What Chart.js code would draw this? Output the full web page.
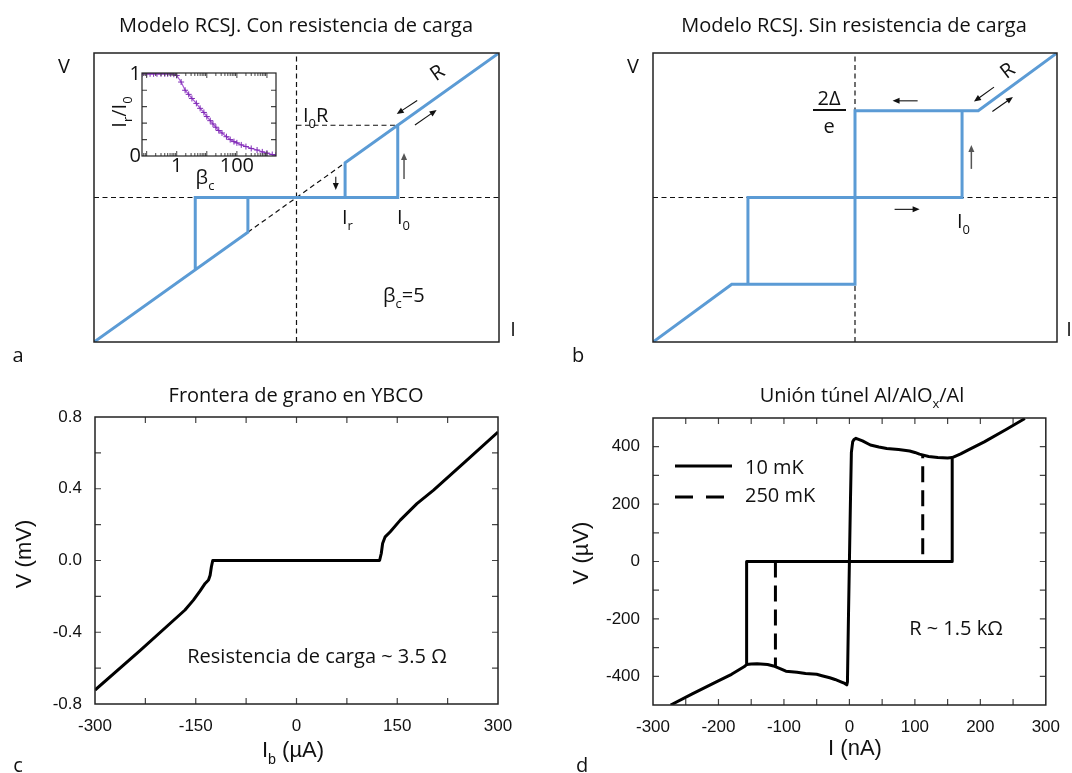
<!DOCTYPE html>
<html><head><meta charset="utf-8">
<script src="https://cdn.jsdelivr.net/npm/chart.js@4.4.1/dist/chart.umd.min.js"></script>
<style>
html,body{margin:0;padding:0;background:#fff;}
#fig{position:relative;width:1072px;height:773px;overflow:hidden;background:#fff;}
canvas{position:absolute;}
</style></head><body>
<div id="fig">
<canvas id="ca" width="536" height="386" style="left:0;top:0"></canvas>
<canvas id="cb" width="536" height="386" style="left:536px;top:0"></canvas>
<canvas id="cc" width="536" height="387" style="left:0;top:386px"></canvas>
<canvas id="cd" width="536" height="387" style="left:536px;top:386px"></canvas>
<canvas id="ci" width="190" height="135" style="left:100px;top:60px"></canvas>
</div>
<script>
// ---------------- data ----------------
// Panel a: RCSJ model with load resistance (normalised I, V)
const aBlueI = [-1, -0.24, -0.24, null, -0.5, -0.5, 0.5, 0.5, null, 0.24, 0.24, 1];
const aBlueV = [-1, -0.24, 0, null, -0.5, 0, 0, 0.5, null, 0, 0.24, 1];
const aRefI = [-0.24, 0.24, null, -1, 1, null, 0, 0, null, 0, 0.5];
const aRefV = [-0.24, 0.24, null, 0, 0, null, -1, 1, null, 0.5, 0.5];
// Inset: Ir/I0 vs beta_c
const insetBeta = [0.07, 0.1, 0.13, 0.17, 0.22, 0.3, 0.4, 0.5, 0.63, 0.8, 1, 1.4, 1.9, 2.5, 3.2, 4.5, 6, 8, 10, 13, 16, 20, 25, 32, 45, 60, 80, 100, 140, 200, 300, 470, 700, 1000, 1500, 2000];
const insetRatio = [1, 1, 1, 1, 1, 1, 1, 1, 1, 0.995, 0.98, 0.9, 0.8, 0.75, 0.7, 0.64, 0.58, 0.53, 0.48, 0.43, 0.39, 0.35, 0.31, 0.28, 0.235, 0.2, 0.175, 0.16, 0.135, 0.115, 0.092, 0.073, 0.05, 0.035, 0.018, 0.01];
const insetXLabels = [1, 100];
const insetYLabels = [0, 1];
// Panel b: RCSJ model without load resistance
const bBlueI = [-1, -0.61, 0, 0, 0.61, 1, null, -0.53, -0.53, 0.53, 0.53];
const bBlueV = [-1, -0.6, -0.6, 0.6, 0.6, 1, null, -0.6, 0, 0, 0.6];
const bRefI = [-1, 1, null, 0, 0];
const bRefV = [0, 0, null, -1, 1];
// Panel c: YBCO grain boundary (uA, mV)
const cCurrent = [-300, -233, -166, -153.5, -143.5, -136, -131, -128.6, -126.7, -124.7, 123.7, 126.2, 128.2, 132, 139.6, 154.5, 179.3, 204.1, 253.8, 300];
const cVoltage = [-0.722, -0.503, -0.276, -0.221, -0.169, -0.128, -0.109, -0.082, -0.035, 0, 0, 0.039, 0.095, 0.132, 0.16, 0.225, 0.317, 0.392, 0.559, 0.716];
const cXLabels = [-300, -150, 0, 150, 300];
const cYLabels = [-0.8, -0.4, 0, 0.4, 0.8];
// Panel d: Al/AlOx/Al tunnel junction (nA, uV)
const d10OuterI = [-273, -240, -201, -180, -161, -157, -157, 157, 157, 170, 181, 206, 240, 268];
const d10OuterV = [-500, -461, -417, -393, -367, -359, 0, 0, 362, 375, 388, 417, 461, 498];
const d10LoopI = [-157, -150, -141, -125, -116, -105, -97, -80, -67, -50, -42, -30, -22, -12, -7, -4, -3, -1.5, 0, 1.5, 3, 5, 7, 10, 20, 32, 45, 57, 75, 92, 100, 107, 121, 135, 150, 157];
const d10LoopV = [-359, -357, -356, -359, -364, -374, -382, -386, -390, -393, -398, -405, -411, -420, -425, -430, -420, -200, 0, 200, 380, 417, 425, 429, 420, 406, 399, 394, 390, 385, 380, 374, 366, 362, 361, 362];
const d250I = [112, 112, null, -113, -113];
const d250V = [25, 368, null, 0, -366];
const dXLabels = [-300, -200, -100, 0, 100, 200, 300];
const dYLabels = [-400, -200, 0, 200, 400];

// ---------------- helpers ----------------
const OPEN = "'Open Sans', 'Noto Sans', sans-serif";
const ARIAL = "'Liberation Sans', Arial, sans-serif";
const BLUE = '#5b9bd5';
function pts(xs, ys) { return xs.map((x, i) => ({x: x, y: ys[i]})); }

function drawRich(ctx, t) {
  const size = t.size || 20, fam = t.family || OPEN;
  const parts = t.parts || [[t.text, '']];
  const sub = size * 0.65;
  ctx.save();
  ctx.translate(t.x, t.y);
  if (t.rot) ctx.rotate(t.rot * Math.PI / 180);
  ctx.fillStyle = t.color || '#111';
  ctx.textBaseline = 'alphabetic';
  ctx.textAlign = 'left';
  const ws = []; let tot = 0;
  parts.forEach(([s, k]) => { ctx.font = (k === 'sub' ? sub : size) + 'px ' + fam; const w = ctx.measureText(s).width; ws.push(w); tot += w; });
  let x0 = t.align === 'left' ? 0 : t.align === 'right' ? -tot : -tot / 2;
  const base = size * 0.36;
  parts.forEach(([s, k], i) => {
    ctx.font = (k === 'sub' ? sub : size) + 'px ' + fam;
    ctx.fillText(s, x0, base + (k === 'sub' ? size * 0.3 : 0));
    x0 += ws[i];
  });
  ctx.restore();
}
function drawArrow(ctx, x1, y1, x2, y2, color, lw) {
  const a = Math.atan2(y2 - y1, x2 - x1), h = 7, w = 3;
  ctx.strokeStyle = color; ctx.fillStyle = color; ctx.lineWidth = lw || 1.1;
  ctx.beginPath(); ctx.moveTo(x1, y1); ctx.lineTo(x2 - h * 0.8 * Math.cos(a), y2 - h * 0.8 * Math.sin(a)); ctx.stroke();
  ctx.beginPath(); ctx.moveTo(x2, y2);
  ctx.lineTo(x2 - h * Math.cos(a) + w * Math.sin(a), y2 - h * Math.sin(a) - w * Math.cos(a));
  ctx.lineTo(x2 - h * Math.cos(a) - w * Math.sin(a), y2 - h * Math.sin(a) + w * Math.cos(a));
  ctx.closePath(); ctx.fill();
}

const annot = {
  id: 'annot',
  afterDraw(chart, args, o) {
    const ctx = chart.ctx, ca = chart.chartArea, xs = chart.scales.x, ys = chart.scales.y;
    const ox = (o.offset || [0, 0])[0], oy = (o.offset || [0, 0])[1];
    ctx.save();
    if (o.tickLen) {
      const L = o.tickLen;
      ctx.strokeStyle = '#444'; ctx.lineWidth = 1.2; ctx.beginPath();
      const xv = o.xTickVals || xs.ticks.map(t => t.value);
      const yv = o.yTickVals || ys.ticks.map(t => t.value);
      xv.forEach(v => { const p = xs.getPixelForValue(v); if (p <= ca.left + 1 || p >= ca.right - 1) return;
        ctx.moveTo(p, ca.bottom); ctx.lineTo(p, ca.bottom - L); ctx.moveTo(p, ca.top); ctx.lineTo(p, ca.top + L); });
      yv.forEach(v => { const p = ys.getPixelForValue(v); if (p <= ca.top + 1 || p >= ca.bottom - 1) return;
        ctx.moveTo(ca.left, p); ctx.lineTo(ca.left + L, p); ctx.moveTo(ca.right, p); ctx.lineTo(ca.right - L, p); });
      ctx.stroke();
    }
    if (o.logMinor) {
      ctx.strokeStyle = '#444'; ctx.lineWidth = 1; ctx.beginPath();
      for (let e = -2; e <= 4; e++) for (let m = 1; m <= 9; m++) {
        const v = m * Math.pow(10, e);
        if (v <= xs.min || v >= xs.max) continue;
        const p = xs.getPixelForValue(v), L = m === 1 ? 5 : 3;
        ctx.moveTo(p, ca.bottom); ctx.lineTo(p, ca.bottom - L); ctx.moveTo(p, ca.top); ctx.lineTo(p, ca.top + L);
      }
      ctx.stroke();
    }
    if (o.box) {
      ctx.strokeStyle = '#222'; ctx.lineWidth = o.box;
      ctx.strokeRect(ca.left, ca.top, ca.right - ca.left, ca.bottom - ca.top);
    }
    (o.lines || []).forEach(l => {
      ctx.beginPath(); ctx.strokeStyle = l.color || '#111'; ctx.lineWidth = l.w || 1;
      ctx.setLineDash(l.dash || []); ctx.moveTo(l.x1 - ox, l.y - oy); ctx.lineTo(l.x2 - ox, l.y - oy); ctx.stroke(); ctx.setLineDash([]);
    });
    (o.arrows || []).forEach(a => drawArrow(ctx, xs.getPixelForValue(a[0]), ys.getPixelForValue(a[1]), xs.getPixelForValue(a[2]), ys.getPixelForValue(a[3]), a[4] || '#111', a[5]));
    (o.texts || []).forEach(t => drawRich(ctx, Object.assign({}, t, {x: t.x - ox, y: t.y - oy})));
    ctx.restore();
  }
};

const common = {responsive: false, animation: false, devicePixelRatio: 1, events: []};
function hidden(min, max) { return {type: 'linear', min: min, max: max, display: false}; }

// ---------------- panel a ----------------
new Chart(document.getElementById('ca'), {
  type: 'line',
  data: {datasets: [
    {label: 'RCSJ', data: pts(aBlueI, aBlueV), borderColor: BLUE, borderWidth: 3, pointRadius: 0, spanGaps: false},
    {label: 'ref', data: pts(aRefI, aRefV), borderColor: '#111', borderWidth: 1.2, borderDash: [5, 3.5], pointRadius: 0, spanGaps: false}
  ]},
  options: Object.assign({}, common, {
    layout: {padding: {left: 94, right: 37, top: 53, bottom: 44}},
    scales: {x: hidden(-1, 1), y: hidden(-1, 1)},
    plugins: {legend: {display: false}, tooltip: {enabled: false}, annot: {
      box: 1.5,
      arrows: [[0.596, 0.671, 0.495, 0.578], [0.585, 0.502, 0.692, 0.606], [0.531, 0.128, 0.531, 0.308, '#555', 1.5], [0.194, 0.144, 0.194, 0.052]],
      texts: [
        {text: 'Modelo RCSJ. Con resistencia de carga', x: 296, y: 25},
        {text: 'V', x: 64, y: 66}, {text: 'I', x: 513, y: 329}, {text: 'a', x: 18, y: 355},
        {parts: [['I', ''], ['0', 'sub'], ['R', '']], x: 303, y: 115, align: 'left'},
        {text: 'R', x: 437, y: 72, rot: -35},
        {parts: [['I', ''], ['r', 'sub']], x: 342, y: 217, align: 'left'},
        {parts: [['I', ''], ['0', 'sub']], x: 397, y: 217, align: 'left'},
        {parts: [['β', ''], ['c', 'sub'], ['=5', '']], x: 383, y: 295, align: 'left'}
      ]}}
  }),
  plugins: [annot]
});

// ---------------- inset ----------------
new Chart(document.getElementById('ci'), {
  type: 'line',
  data: {datasets: [{label: 'Ir/I0', data: pts(insetBeta, insetRatio), borderColor: '#a855d6', borderWidth: 1.2,
    pointStyle: 'cross', pointRadius: 3, pointBorderColor: '#7f2bb5', pointBorderWidth: 1}]},
  options: Object.assign({}, common, {
    layout: {padding: {left: 0, right: 14, top: 13, bottom: 0}},
    scales: {
      x: {type: 'logarithmic', min: 0.07, max: 2000, grid: {display: false, drawTicks: false}, border: {display: false},
        afterBuildTicks: s => { s.ticks = insetXLabels.map(v => ({value: v})); },
        ticks: {autoSkip: false, maxRotation: 0, padding: 0, color: '#111', font: {family: OPEN, size: 20, lineHeight: 1}, callback: v => String(v)},
        afterFit: s => { s.height = 39; }},
      y: {type: 'linear', min: 0, max: 1.01, grid: {display: false, drawTicks: false}, border: {display: false},
        afterBuildTicks: s => { s.ticks = insetYLabels.map(v => ({value: v})); },
        ticks: {padding: 1, color: '#111', font: {family: OPEN, size: 20, lineHeight: 1}, callback: v => String(v)},
        afterFit: s => { s.width = 42; }}
    },
    plugins: {legend: {display: false}, tooltip: {enabled: false}, annot: {
      offset: [100, 60], box: 1.2, logMinor: true, tickLen: 5, xTickVals: [], yTickVals: [0.2, 0.4, 0.6, 0.8],
      texts: [
        {parts: [['I', ''], ['r', 'sub'], ['/I', ''], ['0', 'sub']], x: 119, y: 112, rot: -90},
        {parts: [['β', ''], ['c', 'sub']], x: 205, y: 177}
      ]}}
  }),
  plugins: [annot]
});

// ---------------- panel b ----------------
new Chart(document.getElementById('cb'), {
  type: 'line',
  data: {datasets: [
    {label: 'RCSJ', data: pts(bBlueI, bBlueV), borderColor: BLUE, borderWidth: 3, pointRadius: 0, spanGaps: false},
    {label: 'ref', data: pts(bRefI, bRefV), borderColor: '#111', borderWidth: 1.2, borderDash: [5, 3.5], pointRadius: 0, spanGaps: false}
  ]},
  options: Object.assign({}, common, {
    layout: {padding: {left: 117, right: 15, top: 53, bottom: 44}},
    scales: {x: hidden(-1, 1), y: hidden(-1, 1)},
    plugins: {legend: {display: false}, tooltip: {enabled: false}, annot: {
      offset: [536, 0], box: 1.5,
      arrows: [[0.31, 0.669, 0.186, 0.669], [0.196, -0.082, 0.32, -0.082], [0.576, 0.198, 0.576, 0.364, '#555', 1.5],
               [0.688, 0.764, 0.589, 0.664], [0.68, 0.595, 0.782, 0.695]],
      lines: [{x1: 813, x2: 846, y: 110, w: 2}],
      texts: [
        {text: 'Modelo RCSJ. Sin resistencia de carga', x: 854, y: 25},
        {text: 'V', x: 633, y: 66}, {text: 'I', x: 1069, y: 329}, {text: 'b', x: 578, y: 355},
        {text: 'R', x: 1007, y: 70, rot: -37},
        {text: '2Δ', x: 829, y: 98},
        {text: 'e', x: 829, y: 126},
        {parts: [['I', ''], ['0', 'sub']], x: 957, y: 221, align: 'left'}
      ]}}
  }),
  plugins: [annot]
});

// ---------------- panel c ----------------
new Chart(document.getElementById('cc'), {
  type: 'line',
  data: {datasets: [{label: 'YBCO', data: pts(cCurrent, cVoltage), borderColor: '#000', borderWidth: 3, pointRadius: 0, borderJoinStyle: 'round'}]},
  options: Object.assign({}, common, {
    layout: {padding: {left: 0, right: 38, top: 31, bottom: 0}},
    scales: {
      x: {type: 'linear', min: -300, max: 300, grid: {display: false, drawTicks: false}, border: {display: false},
        ticks: {stepSize: 75, autoSkip: false, maxRotation: 0, padding: 12, color: '#111', font: {family: ARIAL, size: 17},
          callback: v => cXLabels.includes(v) ? String(v) : ''},
        afterFit: s => { s.height = 69; }},
      y: {type: 'linear', min: -0.8, max: 0.8, grid: {display: false, drawTicks: false}, border: {display: false},
        ticks: {stepSize: 0.2, autoSkip: false, padding: 13, color: '#111', font: {family: ARIAL, size: 17},
          callback: v => { const r = Math.round(v * 10) / 10; return cYLabels.some(l => Math.abs(l - r) < 1e-6) ? Math.abs(r).toFixed(1).replace(/^/, r < 0 ? '-' : '') : ''; }},
        afterFit: s => { s.width = 95; }}
    },
    plugins: {legend: {display: false}, tooltip: {enabled: false}, annot: {
      offset: [0, 386], box: 1.5, tickLen: 6,
      texts: [
        {text: 'Frontera de grano en YBCO', x: 296, y: 395},
        {text: 'Resistencia de carga ~ 3.5 Ω', x: 317, y: 656},
        {text: 'V (mV)', x: 23, y: 554, rot: -90, family: ARIAL, size: 22},
        {parts: [['I', ''], ['b', 'sub'], [' (µA)', '']], x: 293, y: 749, family: ARIAL, size: 22},
        {text: 'c', x: 18, y: 765}
      ]}}
  }),
  plugins: [annot]
});

// ---------------- panel d ----------------
new Chart(document.getElementById('cd'), {
  type: 'line',
  data: {datasets: [
    {label: '10 mK', data: pts(d10OuterI, d10OuterV), borderColor: '#000', borderWidth: 3, pointRadius: 0, borderJoinStyle: 'round'},
    {label: '10 mK loop', data: pts(d10LoopI, d10LoopV), borderColor: '#000', borderWidth: 3, pointRadius: 0, borderJoinStyle: 'round'},
    {label: '250 mK', data: pts(d250I, d250V), borderColor: '#000', borderWidth: 3, borderDash: [16, 8], pointRadius: 0, spanGaps: false}
  ]},
  options: Object.assign({}, common, {
    layout: {padding: {left: 0, right: 15, top: 32, bottom: 0}},
    scales: {
      x: {type: 'linear', min: -300, max: 300, grid: {display: false, drawTicks: false}, border: {display: false},
        ticks: {stepSize: 50, autoSkip: false, maxRotation: 0, padding: 12, color: '#111', font: {family: ARIAL, size: 17},
          callback: v => dXLabels.includes(v) ? String(v) : ''},
        afterFit: s => { s.height = 68; }},
      y: {type: 'linear', min: -500, max: 500, grid: {display: false, drawTicks: false}, border: {display: false},
        ticks: {stepSize: 100, autoSkip: false, padding: 13, color: '#111', font: {family: ARIAL, size: 17},
          callback: v => dYLabels.includes(v) ? String(v) : ''},
        afterFit: s => { s.width = 117; }}
    },
    plugins: {legend: {display: false}, tooltip: {enabled: false}, annot: {
      offset: [536, 386], box: 1.5, tickLen: 6,
      lines: [{x1: 675, x2: 732, y: 466, w: 3, color: '#000'}, {x1: 675, x2: 732, y: 497, w: 3, color: '#000', dash: [18, 13]}],
      texts: [
        {parts: [['Unión túnel Al/AlO', ''], ['x', 'sub'], ['/Al', '']], x: 862, y: 395},
        {text: '10 mK', x: 745, y: 467, align: 'left'},
        {text: '250 mK', x: 745, y: 495, align: 'left'},
        {text: 'R ~ 1.5 kΩ', x: 956, y: 628},
        {text: 'V (µV)', x: 580, y: 553, rot: -90, family: ARIAL, size: 22},
        {text: 'I (nA)', x: 855, y: 747, family: ARIAL, size: 22},
        {text: 'd', x: 582, y: 765}
      ]}}
  }),
  plugins: [annot]
});
</script>
</body></html>
